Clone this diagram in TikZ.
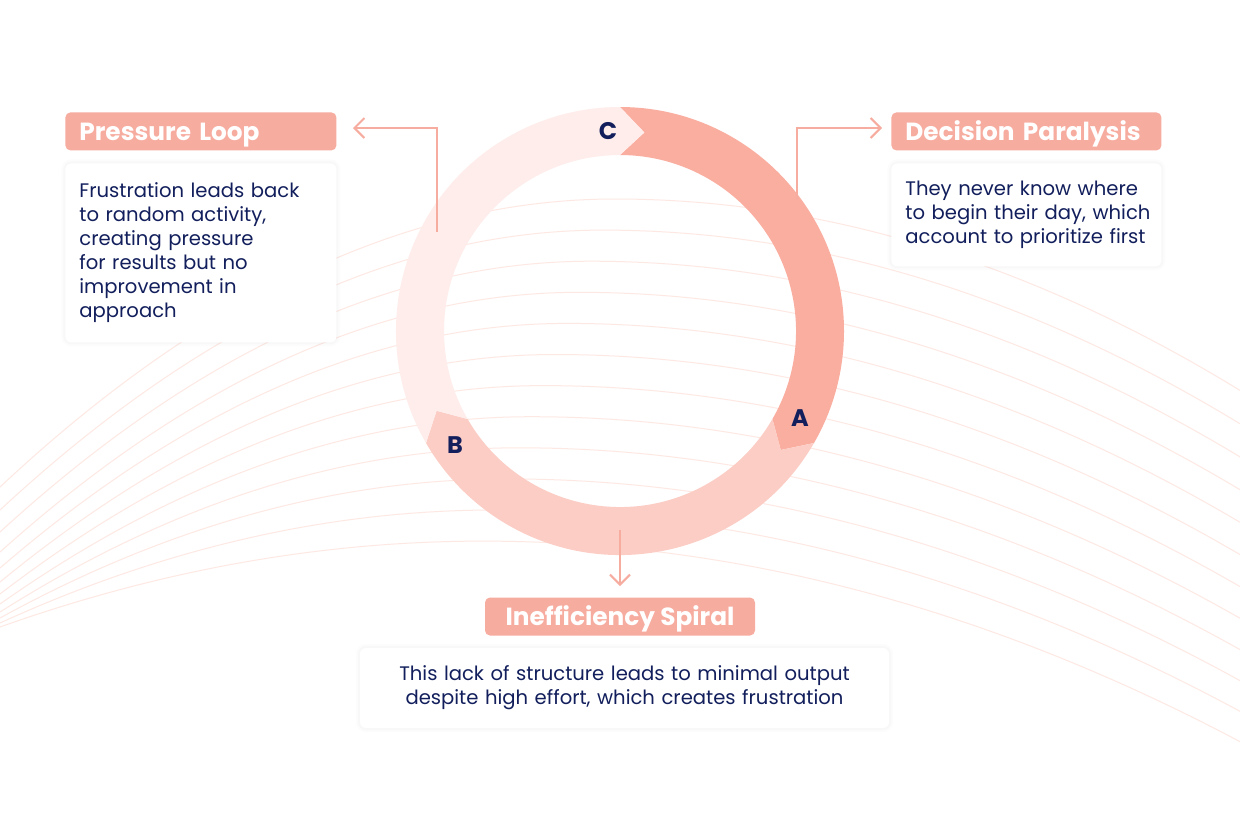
\documentclass[tikz,border=0pt]{standalone}
\usepackage{fontspec}
\setmainfont{Poppins}
\usetikzlibrary{arrows.meta}
\definecolor{navy}{HTML}{121F5C}
\definecolor{salmon}{HTML}{F7ACA0}
\definecolor{ringdark}{HTML}{FAAEA0}
\definecolor{ringmid}{HTML}{FCCDC5}
\definecolor{ringpale}{HTML}{FEEDEA}
\definecolor{bgline}{HTML}{FEE8E3}
\begin{document}
\begin{tikzpicture}[x=0.5pt,y=-0.5pt,
  bgl/.style={draw=bgline, line width=0.5pt},
  titlebox/.style={fill=salmon, rounded corners=2.5pt, text=white,
    font=\fontsize{12.4}{14}\selectfont\bfseries, inner ysep=0pt, inner xsep=7pt,
    text height=8.6pt, text depth=0pt, minimum height=19pt},
  descbox/.style={fill=white, rounded corners=3pt, text=navy,
    font=\fontsize{9.8}{12}\selectfont, inner xsep=7pt, inner ysep=0pt,
    preaction={draw=black, draw opacity=0.012, line width=4pt},
    preaction={draw=black, draw opacity=0.015, line width=2pt}},
  ringlbl/.style={text=navy, font=\fontsize{12}{14}\selectfont\bfseries, inner sep=0pt},
  conn/.style={draw=salmon, line width=1pt, -{Straight Barb[length=5pt,width=10pt]}}
]
\useasboundingbox[fill=white] (0,0) rectangle (1240,837);
% background curves
\begin{scope}
\clip (0,0) rectangle (1240,837);
\foreach \i/\LL in {0/487,1/510,2/532,3/552,4/568,5/582,6/594,7/604,8/612,9/618,10/623,11/627}{
  \pgfmathsetmacro\myT{\i/11}
  \pgfmathsetmacro\myP{199+31.1*\i}
  \pgfmathsetmacro\myX{615-132*\myT}
  \pgfmathsetmacro\myR{\myP+(4.9-1.4*\myT)*((1240-\myX)/100)^2}
  \pgfmathsetmacro\myAx{\myX/3}
  \pgfmathsetmacro\myAy{\LL+2*(\myP-\LL)/3}
  \pgfmathsetmacro\myBx{2*\myX/3}
  \pgfmathsetmacro\myCx{\myX+(1240-\myX)/3}
  \pgfmathsetmacro\myDx{1240-(1240-\myX)/3}
  \pgfmathsetmacro\myDy{\myR+2*(\myP-\myR)/3}
  \draw[bgl] (0,\LL) .. controls (\myAx,\myAy) and (\myBx,\myP) .. (\myX,\myP)
     .. controls (\myCx,\myP) and (\myDx,\myDy) .. (1240,\myR);
}
\end{scope}
% ring
\begin{scope}[shift={(620,331)}, yscale=-1]
  \fill[ringdark] (90:224) arc[start angle=90,end angle=-30,radius=224]
    -- (-36.5:200) -- (-30:176) arc[start angle=-30,end angle=90,radius=176]
    -- (83:200) -- cycle;
  \fill[ringmid] (-30:224) arc[start angle=-30,end angle=-150,radius=224]
    -- (-156.5:200) -- (-150:176) arc[start angle=-150,end angle=-30,radius=176]
    -- (-36.5:200) -- cycle;
  \fill[ringpale] (-150:224) arc[start angle=-150,end angle=-270,radius=224]
    -- (-277:200) -- (-270:176) arc[start angle=-270,end angle=-150,radius=176]
    -- (-156.5:200) -- cycle;
\end{scope}
\node[ringlbl] (lc) at (608,131) {C};
\node[ringlbl] (la) at (800,418) {A};
\node[ringlbl] (lb) at (455,445) {B};
% connectors
\coordinate (plstart) at (437,232);
\coordinate (plend) at (353,128);
\coordinate (dpstart) at (797,200);
\coordinate (dpend) at (882,128);
\coordinate (isstart) at (620,530);
\coordinate (isend) at (620,586);
\draw[conn] (plstart) |- (plend);
\draw[conn] (dpstart) |- (dpend);
\draw[conn] (isstart) -- (isend);
% titles
\node[titlebox, anchor=north west, text width=121.5pt, align=left] (plt) at (65,112) {Pressure Loop};
\node[titlebox, anchor=north west, text width=121pt, align=left] (dpt) at (891,112) {\mbox{Decision Paralysis}};
\node[titlebox, anchor=center, minimum width=135pt] (ist) at (620,616.5) {Inefficiency Spiral};
% descriptions
\node[descbox, anchor=north west, text width=121.5pt, align=left, minimum height=89.5pt] (pld) at (65,163)
  {\mbox{Frustration leads back}\\\mbox{to random activity,}\\\mbox{creating pressure}\\\mbox{for results but no}\\\mbox{improvement in}\\approach};
\node[descbox, anchor=north west, text width=121pt, align=left, minimum height=51.5pt] (dpd) at (891,163)
  {\mbox{They never know where}\\\mbox{to begin their day, which}\\\mbox{account to prioritize first}};
\node[descbox, anchor=center, text width=250.5pt, align=center, minimum height=40pt] (isd) at (624.5,688)
  {This lack of structure leads to minimal output\\despite high effort, which creates frustration};
\end{tikzpicture}
\end{document}
